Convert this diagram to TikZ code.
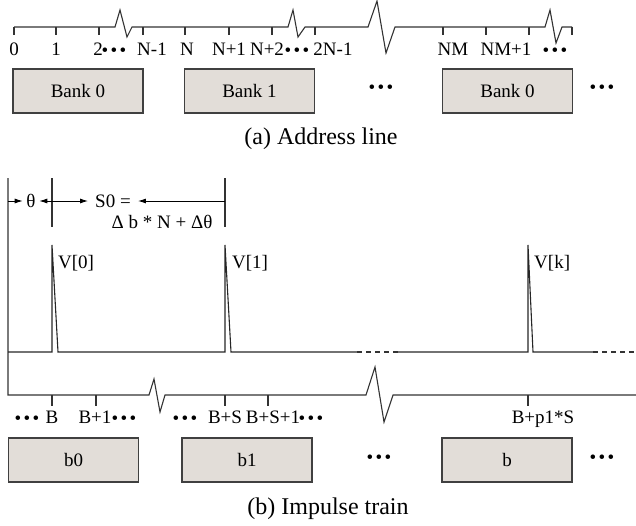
\documentclass[tikz,border=0pt]{standalone}
\usepackage{fontspec}
\setmainfont{Liberation Serif}
\usetikzlibrary{arrows.meta}

\definecolor{bankfill}{RGB}{226,221,216}
\newcommand{\bdots}{\raisebox{-0.1em}{\textbullet}\kern2.3pt\raisebox{-0.1em}{\textbullet}\kern2.3pt\raisebox{-0.1em}{\textbullet}}

\begin{document}
\begin{tikzpicture}[
    x=1pt,
    y=-1pt,
    every node/.style={font=\fontsize{19}{22}\selectfont, inner sep=0pt},
    axis/.style={draw=black!80, line width=1.1pt},
    pulse/.style={draw=black!85, line width=1.1pt},
    gapline/.style={draw=black!80, line width=1.1pt, dash pattern=on 5pt off 4pt},
    bankbox/.style={draw=black!75, fill=bankfill, line width=1.1pt, minimum width=130pt, minimum height=44pt},
    ticklbl/.style={anchor=base},
    caption/.style={font=\fontsize{24}{28}\selectfont},
    dimarrow/.style={draw=black, line width=0.9pt, -{Latex[length=8pt, width=5pt]}}
]
    \useasboundingbox (0,0) rectangle (636,525);

    % (a) address line
    \draw[axis] (14,27) -- (115,27) -- (120,10) -- (127,37) -- (132,27)
        -- (288,27) -- (293,10) -- (298,37) -- (305,27)
        -- (368,27) -- (377,1) -- (386,53) -- (395,27)
        -- (545,27) -- (550,10) -- (556,43) -- (562,27) -- (572,27);
    \foreach \x in {14,56,99,143,185,229,272,315,443,486,529,572}{
        \draw[axis] (\x,27) -- (\x,35);
    }

    \foreach \p/\x/\lbl in {
        a0/14/0, a1/56/1, a2/98/2, an1/152/N-1, an/187/N, anp1/229/N+1,
        anp2/267/N+2, a2n1/333/2N-1, anm/453/NM, anm1/506/NM+1
    }{
        \node[ticklbl] (\p) at (\x,55) {\lbl};
    }
    \foreach \p/\x in {adots1/114, adots2/297, adots3/555}{
        \node[ticklbl] (\p) at (\x,55) {\bdots};
    }

    \node[bankbox] (bank0) at (78,91) {Bank 0};
    \node[bankbox] (bank1) at (249.5,91) {Bank 1};
    \node (bankdots1) at (381,89) {\bdots};
    \node[bankbox] (bankm) at (507.5,91) {Bank 0};
    \node (bankdots2) at (602,89) {\bdots};
    \node[caption] (capa) at (321,139) {(a) Address line};

    % (b) impulse train
    \draw[axis] (8,178) -- (8,395) -- (149,395) -- (154,379) -- (160,412) -- (165,395)
        -- (366,395) -- (375,367) -- (384,422) -- (393,395) -- (636,395);
    \foreach \x in {52,96,225,268,528}{
        \draw[axis] (\x,395) -- (\x,406);
    }

    \draw[pulse] (8,352) -- (52,352) -- (52,245) -- (58,352) -- (225,352) -- (225,245) -- (231,352) -- (357,352);
    \draw[gapline] (357,352) -- (398,352);
    \draw[pulse] (398,352) -- (528,352) -- (528,245) -- (533,352) -- (593,352);
    \draw[gapline] (593,352) -- (636,352);

    \coordinate (m0top) at (52,178);
    \coordinate (m0bot) at (52,227);
    \coordinate (m1top) at (225,178);
    \coordinate (m1bot) at (225,227);
    \draw[axis] (m0top) -- (m0bot);
    \draw[axis] (m1top) -- (m1bot);

    \coordinate (ax) at (8,201);
    \coordinate (m0) at (52,201);
    \coordinate (m1) at (225,201);
    \node[inner xsep=3.5pt] (theta) at (31,201) {θ};
    \node[inner xsep=7pt] (s0) at (113,201) {S0 =};
    \node (s0expr) at (162,222) {Δ b * N + Δθ};
    \draw[dimarrow] (ax) -- (theta.west);
    \draw[dimarrow] (m0) -- (theta.east);
    \draw[dimarrow] (m0) -- (s0.west);
    \draw[dimarrow] (m1) -- (s0.east);

    \node[anchor=base west] (v0) at (58,268) {V[0]};
    \node[anchor=base west] (v1) at (232,268) {V[1]};
    \node[anchor=base west] (vk) at (534,268) {V[k]};

    \foreach \p/\x/\lbl in {
        bb/52/B, bb1/95/B+1, bbs/225/B+S, bbs1/273/B+S+1, bbp/543/B+p1*S
    }{
        \node[ticklbl] (\p) at (\x,423) {\lbl};
    }
    \foreach \p/\x in {bdots1/27, bdots2/124, bdots3/185, bdots4/311}{
        \node[ticklbl] (\p) at (\x,423) {\bdots};
    }

    \node[bankbox] (b0) at (73.5,460) {b0};
    \node[bankbox] (b1) at (247,460) {b1};
    \node (bdots5) at (379,459) {\bdots};
    \node[bankbox] (bk) at (507,460) {b};
    \node (bdots6) at (602,459) {\bdots};
    \node[caption] (capb) at (328,509) {(b) Impulse train};

\end{tikzpicture}
\end{document}
